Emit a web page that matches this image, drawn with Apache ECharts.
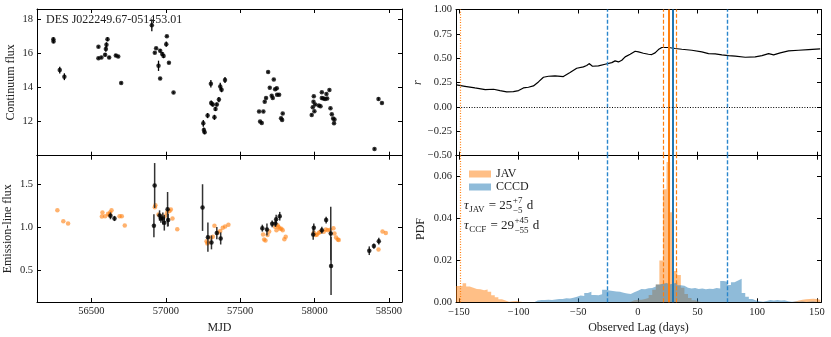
<!DOCTYPE html>
<html>
<head>
<meta charset="utf-8">
<script src="https://cdn.jsdelivr.net/npm/echarts@6/dist/echarts.min.js"></script>
<style>
  html, body { margin: 0; padding: 0; background: #fff; }
  #main { width: 831px; height: 337px; }
</style>
</head>
<body>
<div id="main"></div>
<script>
// continuum light curve (MJD, flux, error)
const contMjd = [56244, 56245, 56287, 56318, 56547, 56547, 56567, 56592, 56597, 56601, 56608, 56619, 56664, 56680, 56700,
  56906, 56926, 56935, 56951, 56962, 56962, 56976, 56985, 57003, 57007, 57021, 57052,
  57252, 57256, 57261, 57281, 57303, 57305, 57316, 57327, 57334, 57343, 57357, 57366, 57375, 57398,
  57627, 57656, 57634, 57645, 57665, 57674, 57688, 57699, 57712, 57719, 57726, 57735, 57746, 57748, 57762, 57775, 57782, 57786,
  57981, 57988, 57993, 57995, 57999, 58004, 58029, 58040, 58049, 58049, 58060, 58071, 58080, 58085, 58100, 58107, 58116, 58125, 58131, 58134,
  58403, 58430, 58453];
const contFlux = [16.82, 16.70, 15.02, 14.63, 16.38, 15.72, 15.76, 15.92, 16.25, 16.50, 16.83, 15.76, 15.88, 15.82, 14.26,
  17.65, 16.03, 16.30, 15.27, 14.53, 16.15, 15.96, 15.84, 16.54, 17.00, 15.45, 13.70,
  11.90, 11.50, 11.38, 12.35, 14.22, 13.09, 13.00, 12.25, 12.74, 13.00, 13.29, 14.05, 13.87, 14.44,
  12.59, 12.59, 12.00, 11.92, 13.17, 13.38, 14.90, 13.99, 13.52, 13.38, 14.47, 13.89, 13.95, 13.58, 13.58, 12.20, 12.10, 12.47,
  12.39, 12.84, 13.17, 13.48, 12.60, 13.00, 12.94, 12.90, 13.72, 13.38, 13.35, 13.33, 13.62, 13.36, 13.85, 12.78, 12.43, 12.18, 11.90, 12.12,
  10.40, 13.33, 13.09];
const contErr = [0.12, 0.10, 0.20, 0.20, 0.06, 0.06, 0.06, 0.10, 0.15, 0.15, 0.12, 0.08, 0.08, 0.06, 0.06,
  0.35, 0.06, 0.06, 0.30, 0.06, 0.10, 0.12, 0.12, 0.15, 0.06, 0.06, 0.06,
  0.20, 0.15, 0.12, 0.15, 0.22, 0.15, 0.12, 0.15, 0.12, 0.12, 0.15, 0.22, 0.15, 0.18,
  0.05, 0.05, 0.05, 0.05, 0.05, 0.05, 0.05, 0.05, 0.05, 0.05, 0.05, 0.05, 0.05, 0.05, 0.05, 0.05, 0.05, 0.05,
  0.05, 0.05, 0.05, 0.05, 0.05, 0.05, 0.05, 0.05, 0.05, 0.05, 0.05, 0.05, 0.05, 0.05, 0.05, 0.05, 0.05, 0.05, 0.05, 0.05,
  0.05, 0.08, 0.05];

// emission-line light curve (measured)
const lineMjd = [56628, 56655, 56920, 56925, 56958, 56967, 56980, 56990, 57012, 57016, 57247, 57283, 57307, 57343, 57369,
  57649, 57680, 57715, 57737, 57742, 57766, 57991, 57995, 58049, 58078, 58109, 58111, 58368, 58399, 58432];
const lineFlux = [1.135, 1.104, 1.019, 1.485, 1.138, 1.104, 1.104, 1.054, 1.21, 1.085, 1.23, 0.888, 0.827, 0.935, 0.873,
  0.992, 0.977, 1.042, 1.046, 1.096, 1.13, 0.919, 0.996, 0.969, 1.085, 0.93, 0.554, 0.731, 0.785, 0.842];
const lineErr = [0.04, 0.03, 0.133, 0.26, 0.06, 0.05, 0.07, 0.09, 0.2, 0.07, 0.27, 0.17, 0.08, 0.07, 0.07,
  0.04, 0.07, 0.04, 0.04, 0.05, 0.05, 0.06, 0.05, 0.04, 0.04, 0.31, 0.335, 0.05, 0.03, 0.04];

// JAV shifted continuum (orange)
const javMjd = [56271, 56311, 56343, 56570, 56574, 56592, 56612, 56621, 56626, 56635, 56689, 56704, 56724,
  56926, 56930, 56951, 56969, 56996, 57009, 57025, 57034, 57045, 57077,
  57274, 57279, 57285, 57303, 57316, 57327, 57350, 57366, 57383, 57399, 57421,
  57654, 57661, 57670, 57684, 57695, 57735, 57744, 57751, 57757, 57766, 57777, 57786, 57797, 57806,
  57995, 58008, 58017, 58029, 58040, 58062, 58076, 58089, 58105, 58127, 58134, 58145, 58156, 58163,
  58430, 58457, 58479];
const javFlux = [1.20, 1.073, 1.046, 1.127, 1.173, 1.13, 1.16, 1.142, 1.173, 1.20, 1.13, 1.13, 1.023,
  1.235, 1.258, 1.15, 1.12, 1.135, 1.173, 1.19, 1.208, 1.104, 0.98,
  0.842, 0.815, 0.827, 0.88, 0.892, 1.019, 0.942, 0.958, 0.996, 1.012, 1.03,
  0.919, 0.862, 0.85, 0.912, 0.954, 1.008, 0.969, 1.027, 1.008, 0.988, 0.985, 0.969, 0.865, 0.892,
  0.938, 0.912, 0.919, 0.938, 0.95, 0.95, 0.977, 0.969, 0.973, 0.992, 0.931, 0.885, 0.862, 0.854,
  0.746, 0.954, 0.935];

// cross-correlation r(lag)
const ccfLagArr = [-152, -145, -136.6, -128, -121, -115.6, -110, -104.4, -100, -96, -91.8, -87.6, -83.4, -79.2, -75,
  -69.5, -62.5, -56.9, -51.3, -45.7, -42.9, -40.9, -38.1, -33.1, -27.5, -21.9, -19.1, -16.3, -13.5, -10.7,
  -6.5, -2.3, 0.5, 4.6, 8.8, 11.6, 14.4, 17.2, 20, 25.6, 31.2, 36.8, 45.2, 53.6, 59.2,
  64.8, 70.4, 76, 81.6, 90, 98.3, 104, 109.6, 113.8, 119.3, 126.3, 134.7, 143, 152.8];
const ccfR = [0.226, 0.212, 0.195, 0.178, 0.182, 0.168, 0.154, 0.158, 0.168, 0.195, 0.202, 0.216, 0.257, 0.305, 0.315,
  0.318, 0.312, 0.353, 0.397, 0.411, 0.425, 0.445, 0.418, 0.421, 0.438, 0.455, 0.473, 0.462, 0.479, 0.514,
  0.541, 0.572, 0.565, 0.551, 0.541, 0.538, 0.555, 0.589, 0.61, 0.61, 0.6, 0.592, 0.582, 0.565, 0.548,
  0.545, 0.534, 0.527, 0.521, 0.51, 0.514, 0.527, 0.548, 0.534, 0.555, 0.575, 0.582, 0.589, 0.596];

// lag PDFs, 3-day bins starting at -153
const binStart = -153, binWidth = 3;
const javPdf = [0.0078, 0.0078, 0.0091, 0.0075, 0.0070, 0.0064, 0.0062, 0.0058, 0.0061, 0.0050,
  0.0034, 0.0024, 0.0014, 0.0008, 0.0003, 0.0005, 0.0006, 0.0004,
  0, 0, 0, 0, 0, 0, 0, 0, 0, 0, 0, 0, 0, 0, 0, 0, 0, 0, 0, 0, 0, 0, 0, 0, 0, 0, 0, 0, 0, 0,
  0.0003, 0.0010, 0.0012, 0.0012, 0.0016, 0.0020, 0.0035, 0.0060, 0.0085, 0.0200,
  0.0540, 0.0670, 0.0430, 0.0150, 0.0130, 0.0070, 0.0040, 0.0020, 0.0010, 0.0004,
  0, 0, 0, 0, 0, 0, 0, 0, 0, 0, 0, 0, 0, 0, 0, 0, 0, 0, 0, 0, 0, 0, 0, 0, 0, 0,
  0.0004, 0.0009, 0.0012, 0.0014, 0.0016, 0.0017, 0.0016, 0.0012];
const cccdPdf = [0, 0, 0, 0, 0, 0, 0, 0, 0, 0, 0, 0, 0, 0, 0, 0, 0, 0, 0, 0, 0, 0,
  0.0008, 0.0011, 0.0011, 0.0012, 0.0011, 0.0013, 0.0016, 0.0016, 0.0019, 0.0018,
  0.0022, 0.0027, 0.0032, 0.0030, 0.0045, 0.0050, 0.0035, 0.0034, 0.0038, 0.0060,
  0.0056, 0.0054, 0.0052, 0.0050, 0.0046, 0.0042, 0.0040, 0.0048, 0.0055, 0.0064,
  0.0062, 0.0067, 0.0068, 0.0075, 0.0085, 0.0088, 0.0092, 0.0086, 0.0090, 0.0094,
  0.0082, 0.0079, 0.0070, 0.0066, 0.0068, 0.0063, 0.0066, 0.0062, 0.0065, 0.0063,
  0.0068, 0.0066, 0.0102, 0.0098, 0.0083, 0.0096, 0.0104, 0.0112, 0.0045, 0.0027,
  0.0016, 0.0008, 0.0005, 0.0003, 0.0006, 0.0011, 0.0009, 0.0011, 0.0008, 0.0010,
  0.0005, 0.0003, 0.0004, 0.0003, 0.0004, 0.0002, 0.0003, 0.0004, 0.0002, 0.0003];

// lag estimates
const javLag = 25.9, javLo = 21.4, javHi = 32.5, javEdge = -148.6;
const ccfLag = 29.3, ccfLo = -25.6, ccfHi = 74.5;

const ORANGE = '#ff7f0e', BLUE = '#1f77b4', BLUE_DASH = '#2b86cc';
const SERIF = 'Liberation Serif';
const TXT = '#222';

function isMult(v, s) { return Math.abs(v / s - Math.round(v / s)) < 1e-6; }
function minus(s) { return String(s).replace('-', '\u2212'); }

function axis(grid, pos, min, max, step, fmt, extra) {
  const a = {
    type: 'value', gridIndex: grid, position: pos, min: min, max: max,
    axisLine: { show: true, onZero: false, lineStyle: { color: '#000', width: 1 } },
    axisTick: { show: true, inside: true, length: 4, lineStyle: { color: '#000' } },
    splitLine: { show: false },
    axisLabel: {
      show: !!fmt, color: TXT, fontFamily: SERIF, fontSize: 10.5, margin: 4,
      formatter: fmt ? function (v) { return isMult(v, step) ? fmt(v) : ''; } : undefined
    },
    minInterval: step, maxInterval: step
  };
  return Object.assign(a, extra || {});
}

const nameStyle = { color: TXT, fontFamily: SERIF, fontSize: 12 };

const mjdMin = 56134, mjdMax = 58588, lagMin = -152.5, lagMax = 153.5;

const xAxes = [
  axis(0, 'bottom', mjdMin, mjdMax, 500, null),
  axis(0, 'top', mjdMin, mjdMax, 500, null),
  axis(1, 'bottom', mjdMin, mjdMax, 500, v => String(v), { name: 'MJD', nameLocation: 'middle', nameGap: 20, nameTextStyle: nameStyle }),
  axis(1, 'top', mjdMin, mjdMax, 500, null),
  axis(2, 'bottom', lagMin, lagMax, 50, null),
  axis(2, 'top', lagMin, lagMax, 50, null),
  axis(3, 'bottom', lagMin, lagMax, 50, v => minus(v), { name: 'Observed Lag (days)', nameLocation: 'middle', nameGap: 20, nameTextStyle: nameStyle }),
  axis(3, 'top', lagMin, lagMax, 50, null)
];
const yAxes = [
  axis(0, 'left', 10, 18.6, 2, v => (v > 10 ? String(v) : ''), { name: 'Continuum flux', nameLocation: 'middle', nameGap: 20, nameTextStyle: nameStyle }),
  axis(0, 'right', 10, 18.6, 2, null),
  axis(1, 'left', 0.138, 1.83, 0.5, v => v.toFixed(1), { name: 'Emission-line flux', nameLocation: 'middle', nameGap: 23, nameTextStyle: nameStyle }),
  axis(1, 'right', 0.138, 1.83, 0.5, null),
  axis(2, 'left', -0.5, 1, 0.25, v => minus(v.toFixed(2)), { name: 'r', nameLocation: 'middle', nameGap: 31, nameTextStyle: Object.assign({ fontStyle: 'italic' }, nameStyle) }),
  axis(2, 'right', -0.5, 1, 0.25, null),
  axis(3, 'left', 0, 0.07, 0.02, v => v.toFixed(2), { name: 'PDF', nameLocation: 'middle', nameGap: 29, nameTextStyle: nameStyle }),
  axis(3, 'right', 0, 0.07, 0.02, null)
];

function errBars(color, width) {
  return function (params, api) {
    const x = api.value(0), y = api.value(1), e = api.value(2);
    const a = api.coord([x, y - e]), b = api.coord([x, y + e]);
    return { type: 'line', shape: { x1: a[0], y1: a[1], x2: b[0], y2: b[1] }, style: { stroke: color, lineWidth: width } };
  };
}

function stepData(pdf) {
  const out = pdf.map((v, i) => [binStart + i * binWidth, v]);
  out.push([binStart + pdf.length * binWidth, pdf[pdf.length - 1]]);
  return out;
}

const DASH = [4, 2], DOT = [1, 1.6];
function vline(x, color, type, width) {
  return { xAxis: x, lineStyle: { color: color, type: type, width: width, opacity: 1 } };
}
const lagLines = [
  vline(javEdge, ORANGE, DOT, 1.2),
  vline(ccfLo, BLUE_DASH, DASH, 1.4),
  vline(ccfHi, BLUE_DASH, DASH, 1.4),
  vline(javLo, ORANGE, DASH, 1.2),
  vline(javHi, ORANGE, DASH, 1.2),
  vline(javLag, ORANGE, 'solid', 2),
  vline(ccfLag, BLUE, 'solid', 2)
];
function markLines(extra) {
  return { silent: true, symbol: ['none', 'none'], label: { show: false }, animation: false,
    lineStyle: { color: BLUE }, data: lagLines.concat(extra || []) };
}

// tau annotation texts (pieces laid out with measured widths)
const mctx = document.createElement('canvas').getContext('2d');
function tw(t, f) { mctx.font = f; return mctx.measureText(t).width; }
function lagText(y, sub, val, up, lo) {
  const big = '13px "' + SERIF + '"', bigI = 'italic 13px "' + SERIF + '"', small = '9px "' + SERIF + '"';
  const els = [];
  let x = 464;
  const put = (t, f, yy) => els.push({ type: 'text', x: x, y: yy, style: { text: t, font: f, fill: TXT, verticalAlign: 'middle' } });
  put('\u03c4', bigI, y); x += tw('\u03c4', bigI) + 0.5;
  put(sub, small, y + 3.5); x += tw(sub, small) + 1;
  put(' = ' + val, big, y); x += tw(' = ' + val, big) + 0.5;
  put('+' + up, small, y - 5); put('\u2212' + lo, small, y + 4.5);
  x += Math.max(tw('+' + up, small), tw('\u2212' + lo, small)) + 1;
  put(' d', big, y);
  return els;
}

const chart = echarts.init(document.getElementById('main'), null, { renderer: 'canvas' });
chart.setOption({
  backgroundColor: '#fff',
  animation: false,
  title: { text: 'DES J022249.67-051453.01', left: 46, top: 14, padding: 0,
    textStyle: { color: TXT, fontFamily: SERIF, fontSize: 12, fontWeight: 'normal' } },
  legend: {
    left: 464, top: 163, orient: 'vertical', itemWidth: 22, itemHeight: 7, itemGap: 1, icon: 'rect',
    textStyle: { color: TXT, fontFamily: SERIF, fontSize: 12 },
    data: [
      { name: 'JAV', icon: 'rect', itemStyle: { color: 'rgba(255,127,14,0.5)' } },
      { name: 'CCCD', icon: 'rect', itemStyle: { color: 'rgba(31,119,180,0.5)' } }
    ]
  },
  grid: [
    { left: 37, top: 9, width: 365, height: 146.7 },
    { left: 37, top: 155.7, width: 365, height: 146.3 },
    { left: 456, top: 9.5, width: 365, height: 146.2 },
    { left: 456, top: 155.7, width: 365, height: 146.6 }
  ],
  xAxis: xAxes,
  yAxis: yAxes,
  graphic: lagText(206, 'JAV', 25, 7, 5).concat(lagText(226, 'CCF', 29, 45, 55)),
  series: [
    { type: 'custom', xAxisIndex: 0, yAxisIndex: 0, renderItem: errBars('#000', 1.3), encode: { x: 0, y: 1 },
      data: contMjd.map((m, i) => [m, contFlux[i], contErr[i]]), z: 2 },
    { type: 'scatter', xAxisIndex: 0, yAxisIndex: 0, symbolSize: 4.5, itemStyle: { color: '#000' },
      data: contMjd.map((m, i) => [m, contFlux[i]]), z: 3 },
    { type: 'scatter', xAxisIndex: 2, yAxisIndex: 2, symbolSize: 4.5, itemStyle: { color: ORANGE, opacity: 0.6 },
      data: javMjd.map((m, i) => [m, javFlux[i]]), z: 1 },
    { type: 'custom', xAxisIndex: 2, yAxisIndex: 2, renderItem: errBars('#333', 1.5), encode: { x: 0, y: 1 },
      data: lineMjd.map((m, i) => [m, lineFlux[i], lineErr[i]]), z: 2 },
    { type: 'scatter', xAxisIndex: 2, yAxisIndex: 2, symbolSize: 4.5, itemStyle: { color: '#000' },
      data: lineMjd.map((m, i) => [m, lineFlux[i]]), z: 3 },
    { type: 'line', xAxisIndex: 4, yAxisIndex: 4, showSymbol: false, symbol: 'none',
      lineStyle: { color: '#000', width: 1.2 },
      data: ccfLagArr.map((l, i) => [l, ccfR[i]]),
      markLine: markLines([{ yAxis: 0, lineStyle: { color: '#000', type: DOT, width: 1 } }]) },
    { name: 'JAV', type: 'line', xAxisIndex: 6, yAxisIndex: 6, step: 'end', symbol: 'none',
      lineStyle: { width: 0, opacity: 0 }, itemStyle: { color: 'rgba(255,127,14,0.5)' },
      areaStyle: { color: 'rgba(255,127,14,0.5)', opacity: 1 },
      data: stepData(javPdf), z: 1 },
    { name: 'CCCD', type: 'line', xAxisIndex: 6, yAxisIndex: 6, step: 'end', symbol: 'none',
      lineStyle: { width: 0, opacity: 0 }, itemStyle: { color: 'rgba(31,119,180,0.5)' },
      areaStyle: { color: 'rgba(31,119,180,0.5)', opacity: 1 },
      data: stepData(cccdPdf), z: 2,
      markLine: markLines() }
  ]
});
window.onresize = function () { chart.resize(); };
</script>
</body>
</html>
